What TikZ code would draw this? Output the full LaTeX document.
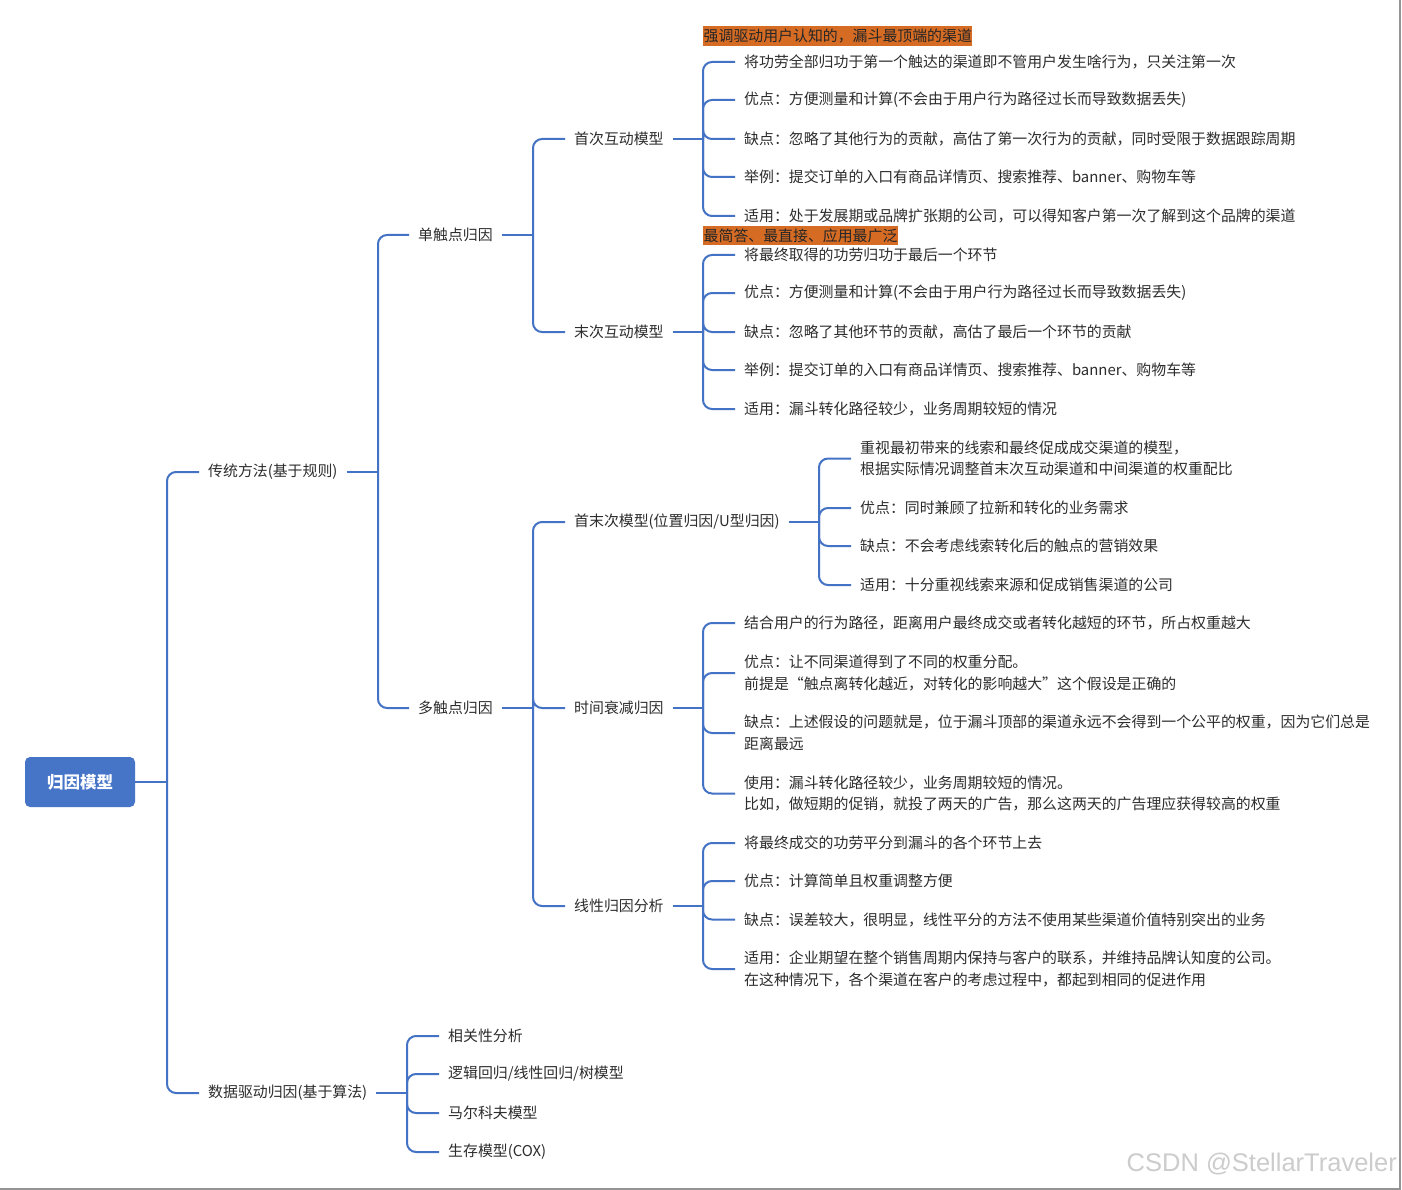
\documentclass[tikz,border=0pt]{standalone}
\usepackage{fontspec}
\setmainfont{Noto Sans CJK SC}
\newfontfamily\wmfont{Liberation Sans}
\usetikzlibrary{calc}
\definecolor{lineblue}{RGB}{68,114,196}
\definecolor{rootblue}{RGB}{70,117,200}
\definecolor{tagorange}{RGB}{214,108,36}
\definecolor{txt}{RGB}{45,45,45}
\newcommand\kids[2]{\foreach \c in {#2}{\draw[conn] (#1) |- ($(\c.west)+(-9,0)$);}}
\begin{document}
\begin{tikzpicture}[x=1pt,y=-1pt,
  every node/.style={font=\fontsize{14.9}{21.5}\selectfont, text=txt, inner sep=0pt},
  lbl/.style={anchor=west, align=left},
  conn/.style={draw=lineblue, line width=2pt, rounded corners=9pt},
  tag/.style={anchor=west, fill=tagorange, inner xsep=0.5pt, inner ysep=2.5pt, text=black!85},
  rootbox/.style={fill=rootblue, rounded corners=5pt, minimum width=110pt, minimum height=50pt,
    text=white, font=\fontsize{16.5}{20}\selectfont\bfseries}
]
\fill[white] (0,0) rectangle (1402,1190);
\useasboundingbox (0,0) rectangle (1402,1190);
\draw[gray!85, line width=1.5pt] (1400,0) -- (1400,1189) -- (0,1189);

% root
\node[rootbox] (root) at (80,782) {归因模型};
\coordinate (jroot) at (167,782);

% level 1
\node[lbl] (trad) at (208,472) {传统方法(基于规则)};
\node[lbl] (data) at (208,1093) {数据驱动归因(基于算法)};
\coordinate (jtrad) at (378,472);
\coordinate (jdata) at (407,1093);

% level 2
\node[lbl] (st) at (418,235) {单触点归因};
\node[lbl] (mt) at (418,708) {多触点归因};
\coordinate (jst) at (533,235);
\coordinate (jmt) at (533,708);

% level 3
\node[lbl] (fm) at (574,139) {首次互动模型};
\node[lbl] (lm) at (574,332) {末次互动模型};
\node[lbl] (um) at (574,522) {首末次模型(位置归因/U型归因)};
\node[lbl] (td) at (574,708) {时间衰减归因};
\node[lbl] (lin) at (574,906) {线性归因分析};
\coordinate (jfm) at (703,139);
\coordinate (jlm) at (703,332);
\coordinate (jum) at (819,522);
\coordinate (jtd) at (703,708);
\coordinate (jlin) at (703,906);

% tags
\node[tag] (tag1) at (703,36) {强调驱动用户认知的，漏斗最顶端的渠道};
\node[tag] (tag2) at (703,235.5) {最简答、最直接、应用最广泛};

% first-touch children
\node[lbl] (fm1) at (744,62) {将功劳全部归功于第一个触达的渠道即不管用户发生啥行为，只关注第一次};
\node[lbl] (fm2) at (744,100) {优点：方便测量和计算(不会由于用户行为路径过长而导致数据丢失)};
\node[lbl] (fm3) at (744,139) {缺点：忽略了其他行为的贡献，高估了第一次行为的贡献，同时受限于数据跟踪周期};
\node[lbl] (fm4) at (744,177) {举例：提交订单的入口有商品详情页、搜索推荐、banner、购物车等};
\node[lbl] (fm5) at (744,216) {适用：处于发展期或品牌扩张期的公司，可以得知客户第一次了解到这个品牌的渠道};

% last-touch children
\node[lbl] (lm1) at (744,255) {将最终取得的功劳归功于最后一个环节};
\node[lbl] (lm2) at (744,293) {优点：方便测量和计算(不会由于用户行为路径过长而导致数据丢失)};
\node[lbl] (lm3) at (744,332) {缺点：忽略了其他环节的贡献，高估了最后一个环节的贡献};
\node[lbl] (lm4) at (744,370) {举例：提交订单的入口有商品详情页、搜索推荐、banner、购物车等};
\node[lbl] (lm5) at (744,409) {适用：漏斗转化路径较少，业务周期较短的情况};

% U-shape children
\node[lbl] (um1) at (860,458.5) {重视最初带来的线索和最终促成成交渠道的模型，\\根据实际情况调整首末次互动渠道和中间渠道的权重配比};
\node[lbl] (um2) at (860,508) {优点：同时兼顾了拉新和转化的业务需求};
\node[lbl] (um3) at (860,546) {缺点：不会考虑线索转化后的触点的营销效果};
\node[lbl] (um4) at (860,585) {适用：十分重视线索来源和促成销售渠道的公司};

% time decay children
\node[lbl] (td1) at (744,623) {结合用户的行为路径，距离用户最终成交或者转化越短的环节，所占权重越大};
\node[lbl] (td2) at (744,673) {优点：让不同渠道得到了不同的权重分配。\\前提是“触点离转化越近，对转化的影响越大”这个假设是正确的};
\node[lbl] (td3) at (744,733) {缺点：上述假设的问题就是，位于漏斗顶部的渠道永远不会得到一个公平的权重，因为它们总是\\距离最远};
\node[lbl] (td4) at (744,793.5) {使用：漏斗转化路径较少，业务周期较短的情况。\\比如，做短期的促销，就投了两天的广告，那么这两天的广告理应获得较高的权重};

% linear children
\node[lbl] (lin1) at (744,843) {将最终成交的功劳平分到漏斗的各个环节上去};
\node[lbl] (lin2) at (744,881) {优点：计算简单且权重调整方便};
\node[lbl] (lin3) at (744,919.5) {缺点：误差较大，很明显，线性平分的方法不使用某些渠道价值特别突出的业务};
\node[lbl] (lin4) at (744,969) {适用：企业期望在整个销售周期内保持与客户的联系，并维持品牌认知度的公司。\\在这种情况下，各个渠道在客户的考虑过程中，都起到相同的促进作用};

% data-driven children
\node[lbl] (dd1) at (448,1036) {相关性分析};
\node[lbl] (dd2) at (448,1074) {逻辑回归/线性回归/树模型};
\node[lbl] (dd3) at (448,1113) {马尔科夫模型};
\node[lbl] (dd4) at (448,1152) {生存模型(COX)};

% connectors
\draw[conn] (root.east) -- (jroot);
\kids{jroot}{trad,data}
\draw[conn] ($(trad.east)+(9,0)$) -- (jtrad);
\kids{jtrad}{st,mt}
\draw[conn] ($(data.east)+(9,0)$) -- (jdata);
\kids{jdata}{dd1,dd2,dd3,dd4}
\draw[conn] ($(st.east)+(9,0)$) -- (jst);
\kids{jst}{fm,lm}
\draw[conn] ($(mt.east)+(9,0)$) -- (jmt);
\kids{jmt}{um,td,lin}
\draw[conn] ($(fm.east)+(9,0)$) -- (jfm);
\kids{jfm}{fm1,fm2,fm3,fm4,fm5}
\draw[conn] ($(lm.east)+(9,0)$) -- (jlm);
\kids{jlm}{lm1,lm2,lm3,lm4,lm5}
\draw[conn] ($(um.east)+(9,0)$) -- (jum);
\kids{jum}{um1,um2,um3,um4}
\draw[conn] ($(td.east)+(9,0)$) -- (jtd);
\kids{jtd}{td1,td2,td3,td4}
\draw[conn] ($(lin.east)+(9,0)$) -- (jlin);
\kids{jlin}{lin1,lin2,lin3,lin4}

% watermark
\node[font=\wmfont\fontsize{25.5}{25.5}\selectfont, text=gray!40, anchor=east] (wm) at (1397,1164) {CSDN @StellarTraveler};
\end{tikzpicture}
\end{document}
